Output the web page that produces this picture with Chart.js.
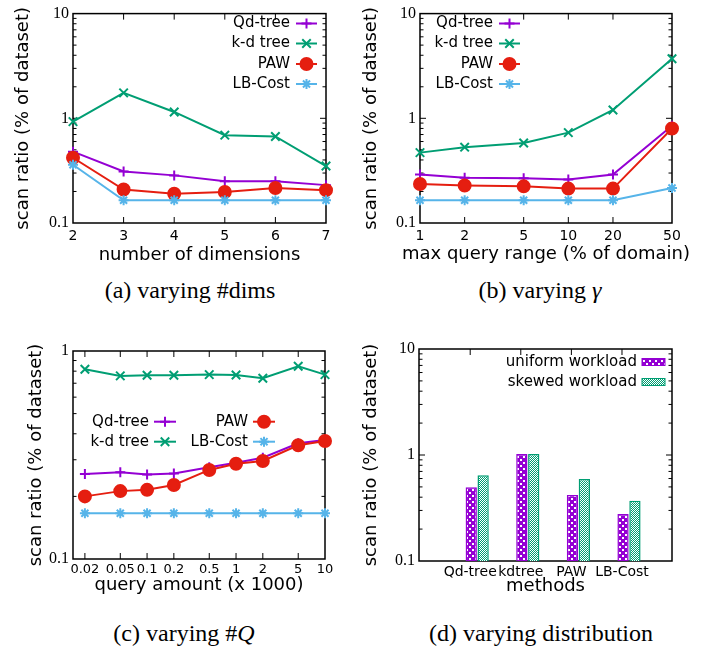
<!DOCTYPE html>
<html>
<head>
<meta charset="utf-8">
<script src="https://cdn.jsdelivr.net/npm/chart.js@4/dist/chart.umd.min.js"></script>
<style>
  html, body { margin: 0; padding: 0; background: #fff; }
  body { width: 717px; height: 653px; position: relative; overflow: hidden; }
  canvas { position: absolute; }
  .cap { position: absolute; font-family: "Liberation Serif", "Times New Roman", serif; font-size: 24px;
         line-height: 1; color: #000; white-space: nowrap; transform: translate(-50%, -50%); }
</style>
</head>
<body>
<canvas id="ca" width="358" height="270" style="left:0;top:0"></canvas>
<canvas id="cb" width="359" height="270" style="left:358px;top:0"></canvas>
<canvas id="cc" width="358" height="275" style="left:0;top:327px"></canvas>
<canvas id="cd" width="359" height="275" style="left:358px;top:327px"></canvas>
<div class="cap" style="left:190px;top:290px">(a) varying #dims</div>
<div class="cap" style="left:540px;top:290px">(b) varying <i>γ</i></div>
<div class="cap" style="left:184px;top:633px">(c) varying #<i>Q</i></div>
<div class="cap" style="left:541px;top:633px">(d) varying distribution</div>
<script>
// ---------------- data ----------------
const seriesNames = ['Qd-tree', 'k-d tree', 'PAW', 'LB-Cost'];

// (a) varying number of dimensions
const dimsX   = [2, 3, 4, 5, 6, 7];
const dimsQd  = [0.48, 0.31, 0.285, 0.25, 0.25, 0.23];
const dimsKd  = [0.93, 1.75, 1.15, 0.69, 0.67, 0.35];
const dimsPaw = [0.42, 0.209, 0.19, 0.198, 0.216, 0.206];
const dimsLb  = [0.36, 0.165, 0.165, 0.165, 0.165, 0.165];

// (b) varying max query range (% of domain)
const rangeX   = [1, 2, 5, 10, 20, 50];
const rangeQd  = [0.29, 0.27, 0.267, 0.26, 0.29, 0.85];
const rangeKd  = [0.47, 0.53, 0.58, 0.73, 1.2, 3.7];
const rangePaw = [0.236, 0.228, 0.224, 0.213, 0.213, 0.80];
const rangeLb  = [0.165, 0.165, 0.165, 0.165, 0.165, 0.216];

// (c) varying query amount (x 1000)
const amountX   = [0.02, 0.05, 0.1, 0.2, 0.5, 1, 2, 5, 10];
const amountQd  = [0.256, 0.261, 0.255, 0.258, 0.276, 0.29, 0.307, 0.36, 0.373];
const amountKd  = [0.817, 0.759, 0.765, 0.765, 0.77, 0.767, 0.74, 0.845, 0.77];
const amountPaw = [0.2, 0.212, 0.215, 0.227, 0.268, 0.287, 0.296, 0.352, 0.369];
const amountLb  = [0.166, 0.166, 0.166, 0.166, 0.166, 0.166, 0.166, 0.166, 0.166];

// (d) varying distribution
const methods      = ['Qd-tree', 'kdtree', 'PAW', 'LB-Cost'];
const workloads    = ['uniform workload', 'skewed workload'];
const uniformVals  = [0.495, 1.02, 0.42, 0.278];
const skewedVals   = [0.643, 1.02, 0.593, 0.37];

// tick labels
const yTicksMain = [0.1, 1, 10];
const yTicksC    = [0.1, 1];
const axisTitleY = 'scan ratio (% of dataset)';

// ---------------- styles ----------------
const SANS = 'DejaVu Sans';
const SERIF = 'Liberation Serif';
Chart.defaults.font.family = SANS;
Chart.defaults.color = '#000';

const seriesColors  = ['#9400D3', '#009E73', '#E51E10', '#56B4E9'];
const seriesMarkers = ['cross', 'crossRot', 'circle', 'star'];
const markerRadius  = [5, 6, 6, 5];

function makeLineDatasets(xs, ys) {
  return ys.map((vals, k) => ({
    label: seriesNames[k],
    data: xs.map((x, i) => ({ x: x, y: vals[i] })),
    borderColor: seriesColors[k],
    backgroundColor: seriesColors[k],
    borderWidth: 2,
    pointStyle: seriesMarkers[k],
    pointRadius: markerRadius[k],
    pointHoverRadius: markerRadius[k],
    pointBorderWidth: 2,
    pointBackgroundColor: seriesColors[k],
    pointBorderColor: seriesColors[k],
    tension: 0,
    clip: false,
    order: 3 - k
  }));
}

// frame + inside tick marks (gnuplot look)
const frameTicks = {
  id: 'frameTicks',
  beforeDatasetsDraw(chart, args, o) {
    const { ctx, chartArea: a } = chart;
    const xs = chart.scales.x, ys = chart.scales.y;
    ctx.save();
    ctx.strokeStyle = '#000';
    ctx.lineWidth = 1;
    const seg = (x1, y1, x2, y2) => { ctx.beginPath(); ctx.moveTo(x1, y1); ctx.lineTo(x2, y2); ctx.stroke(); };
    const M = 6, m = 3.5;
    xs.ticks.forEach(t => {
      const p = xs.getPixelForValue(t.value) + (o.xShift || 0);
      if (p <= a.left + 1 || p >= a.right - 1) return;
      seg(p, a.bottom, p, a.bottom - M);
      seg(p, a.top, p, a.top + M);
    });
    ys.ticks.forEach(t => {
      const p = ys.getPixelForValue(t.value);
      if (p <= a.top + 1 || p >= a.bottom - 1) return;
      seg(a.left, p, a.left + M, p);
      seg(a.right, p, a.right - M, p);
    });
    const lo = Math.floor(Math.log10(ys.min)), hi = Math.ceil(Math.log10(ys.max));
    for (let e = lo; e < hi; e++) {
      for (let k = 2; k <= 9; k++) {
        const v = k * Math.pow(10, e);
        if (v <= ys.min || v >= ys.max) continue;
        const p = ys.getPixelForValue(v);
        seg(a.left, p, a.left + m, p);
        seg(a.right, p, a.right - m, p);
      }
    }
    ctx.lineWidth = 1.5;
    ctx.strokeRect(a.left, a.top, a.right - a.left, a.bottom - a.top);
    // x-axis title (drawn here so that it is not squeezed to the plot width)
    if (o.xTitle) {
      ctx.fillStyle = '#000';
      ctx.font = '18px "' + SANS + '"';
      ctx.textAlign = 'center';
      ctx.textBaseline = 'middle';
      ctx.fillText(o.xTitle, (a.left + a.right) / 2, o.xTitleY);
    }
    ctx.restore();
  }
};

// gnuplot-style key: text right-aligned, sample to its right
const keyPlugin = {
  id: 'key',
  afterDatasetsDraw(chart, args, o) {
    if (!o || !o.rows) return;
    const ctx = chart.ctx;
    ctx.save();
    ctx.font = '15px "' + SANS + '"';
    ctx.textAlign = 'right';
    ctx.textBaseline = 'middle';
    o.rows.forEach(r => {
      const ds = chart.data.datasets[r.ds];
      ctx.fillStyle = '#000';
      ctx.fillText(ds.label, r.x, r.y);
      const x0 = r.x + o.gap, x1 = x0 + o.len;
      if (o.box) {
        ctx.fillStyle = ds.backgroundColor;
        ctx.fillRect(x0, r.y - o.box / 2, o.len, o.box);
        ctx.strokeStyle = ds.borderColor;
        ctx.lineWidth = 1;
        ctx.strokeRect(x0, r.y - o.box / 2, o.len, o.box);
      } else {
        ctx.strokeStyle = ds.borderColor;
        ctx.lineWidth = ds.borderWidth;
        ctx.beginPath(); ctx.moveTo(x0, r.y); ctx.lineTo(x1, r.y); ctx.stroke();
        ctx.fillStyle = ds.pointBackgroundColor;
        ctx.strokeStyle = ds.pointBorderColor;
        ctx.lineWidth = ds.pointBorderWidth;
        Chart.helpers.drawPoint(ctx, { pointStyle: ds.pointStyle, radius: ds.pointRadius,
          borderWidth: ds.pointBorderWidth, rotation: 0 }, (x0 + x1) / 2, r.y);
      }
    });
    ctx.restore();
  }
};

function setTicks(vals) {
  return s => { s.ticks = vals.filter(v => v >= s.min - 1e-9 && v <= s.max + 1e-9).map(v => ({ value: v })); };
}

function build(id, type, datasets, o) {
  const canvas = document.getElementById(id);
  const W = canvas.width, H = canvas.height;
  return new Chart(canvas, {
    type: type,
    data: { datasets: datasets },
    options: {
      responsive: false,
      animation: false,
      devicePixelRatio: 1,
      events: [],
      layout: { padding: { left: 0, top: o.area.top, right: W - o.area.right, bottom: 0 } },
      plugins: {
        legend: { display: false },
        tooltip: { enabled: false },
        key: o.key,
        frameTicks: { xShift: o.xShift || 0, xTitle: o.xTitle, xTitleY: o.xTitleY }
      },
      scales: {
        x: Object.assign({
          grid: { display: false, drawTicks: false },
          border: { display: false },
          afterFit: s => { s.height = H - o.area.bottom; },
          afterBuildTicks: setTicks(o.xTicks),
          ticks: {
            autoSkip: false, maxRotation: 0, minRotation: 0,
            padding: o.xTickPad, labelOffset: o.xShift || 0,
            font: { family: SANS, size: o.xTickSize },
            color: '#000',
            callback: o.xLabel || (v => String(v))
          },
          title: { display: false }
        }, o.x),
        y: {
          type: 'logarithmic',
          min: o.yMin, max: o.yMax,
          grid: { display: false, drawTicks: false },
          border: { display: false },
          afterFit: s => { s.width = o.area.left; },
          afterBuildTicks: setTicks(o.yTicks),
          ticks: {
            autoSkip: false, padding: 4,
            font: { family: SERIF, size: 16 },
            color: '#000',
            callback: v => String(v)
          },
          title: { display: true, text: axisTitleY, color: '#000',
                   font: { family: SANS, size: 18 }, padding: { top: o.yTitlePad, bottom: 0 } }
        }
      }
    },
    plugins: [frameTicks, keyPlugin]
  });
}

// (a)
build('ca', 'line', makeLineDatasets(dimsX, [dimsQd, dimsKd, dimsPaw, dimsLb]), {
  area: { left: 73, right: 326, top: 12, bottom: 223 },
  x: { type: 'linear', min: 2, max: 7 },
  xTicks: dimsX, xTickSize: 14, xTickPad: 5,
  xTitle: 'number of dimensions', xTitleY: 255,
  yMin: 0.1, yMax: 10, yTicks: yTicksMain, yTitlePad: 13,
  key: { gap: 6, len: 21, rows: [
    { ds: 0, x: 290, y: 23.5 }, { ds: 1, x: 290, y: 43.5 },
    { ds: 2, x: 290, y: 64 },   { ds: 3, x: 290, y: 84 } ] }
});

// (b)
build('cb', 'line', makeLineDatasets(rangeX, [rangeQd, rangeKd, rangePaw, rangeLb]), {
  area: { left: 62, right: 314, top: 12, bottom: 223 },
  x: { type: 'logarithmic', min: 1, max: 50 },
  xTicks: rangeX, xTickSize: 14, xTickPad: 5,
  xTitle: 'max query range (% of domain)', xTitleY: 254,
  yMin: 0.1, yMax: 10, yTicks: yTicksMain, yTitlePad: 2.7,
  key: { gap: 6, len: 21, rows: [
    { ds: 0, x: 135, y: 23.5 }, { ds: 1, x: 135, y: 43.5 },
    { ds: 2, x: 135, y: 64 },   { ds: 3, x: 135, y: 84 } ] }
});

// (c)
build('cc', 'line', makeLineDatasets(amountX, [amountQd, amountKd, amountPaw, amountLb]), {
  area: { left: 73, right: 325, top: 24, bottom: 232 },
  x: { type: 'logarithmic', min: 0.0147, max: 10 },
  xTicks: amountX, xTickSize: 13, xTickPad: 3,
  xTitle: 'query amount (x 1000)', xTitleY: 258,
  yMin: 0.1, yMax: 1, yTicks: yTicksC, yTitlePad: 26,
  key: { gap: 5, len: 22, rows: [
    { ds: 0, x: 149, y: 94.7 }, { ds: 1, x: 149, y: 114.7 },
    { ds: 2, x: 248, y: 94.7 }, { ds: 3, x: 248, y: 114.7 } ] }
});

// (d) bars with patterns
const dctx = document.getElementById('cd').getContext('2d');
function makePattern(bg, fg, size, cells) {
  const c = document.createElement('canvas');
  c.width = size; c.height = size;
  const g = c.getContext('2d');
  g.fillStyle = bg; g.fillRect(0, 0, size, size);
  g.fillStyle = fg;
  cells.forEach(r => g.fillRect(r[0], r[1], r[2], r[3]));
  return dctx.createPattern(c, 'repeat');
}
const patUniform = makePattern('#9400D3', '#ffffff', 6, [[0, 0, 2, 2], [3, 3, 2, 2]]);
const patSkewed  = makePattern('#009E73', '#ffffff', 2, [[1, 0, 1, 1], [0, 1, 1, 1]]);

const barSets = [
  { label: workloads[0], data: methods.map((m, i) => ({ x: i, y: uniformVals[i] })),
    backgroundColor: patUniform, borderColor: '#9400D3', borderWidth: 1.5,
    categoryPercentage: 0.47, barPercentage: 0.95 },
  { label: workloads[1], data: methods.map((m, i) => ({ x: i, y: skewedVals[i] })),
    backgroundColor: patSkewed, borderColor: '#009E73', borderWidth: 1.5,
    categoryPercentage: 0.47, barPercentage: 0.95 }
];
build('cd', 'bar', barSets, {
  area: { left: 61, right: 314, top: 22, bottom: 234 },
  x: { type: 'linear', min: -1.15, max: 3.85, offset: false },
  xTicks: methods.map((m, i) => i), xTickSize: 14, xTickPad: 3, xShift: -7,
  xLabel: v => methods[v],
  xTitle: 'methods', xTitleY: 259,
  yMin: 0.1, yMax: 10, yTicks: yTicksMain, yTitlePad: 2.7,
  key: { gap: 5, len: 23, box: 7, rows: [
    { ds: 0, x: 279, y: 35 }, { ds: 1, x: 279, y: 55 } ] }
});
</script>
</body>
</html>
